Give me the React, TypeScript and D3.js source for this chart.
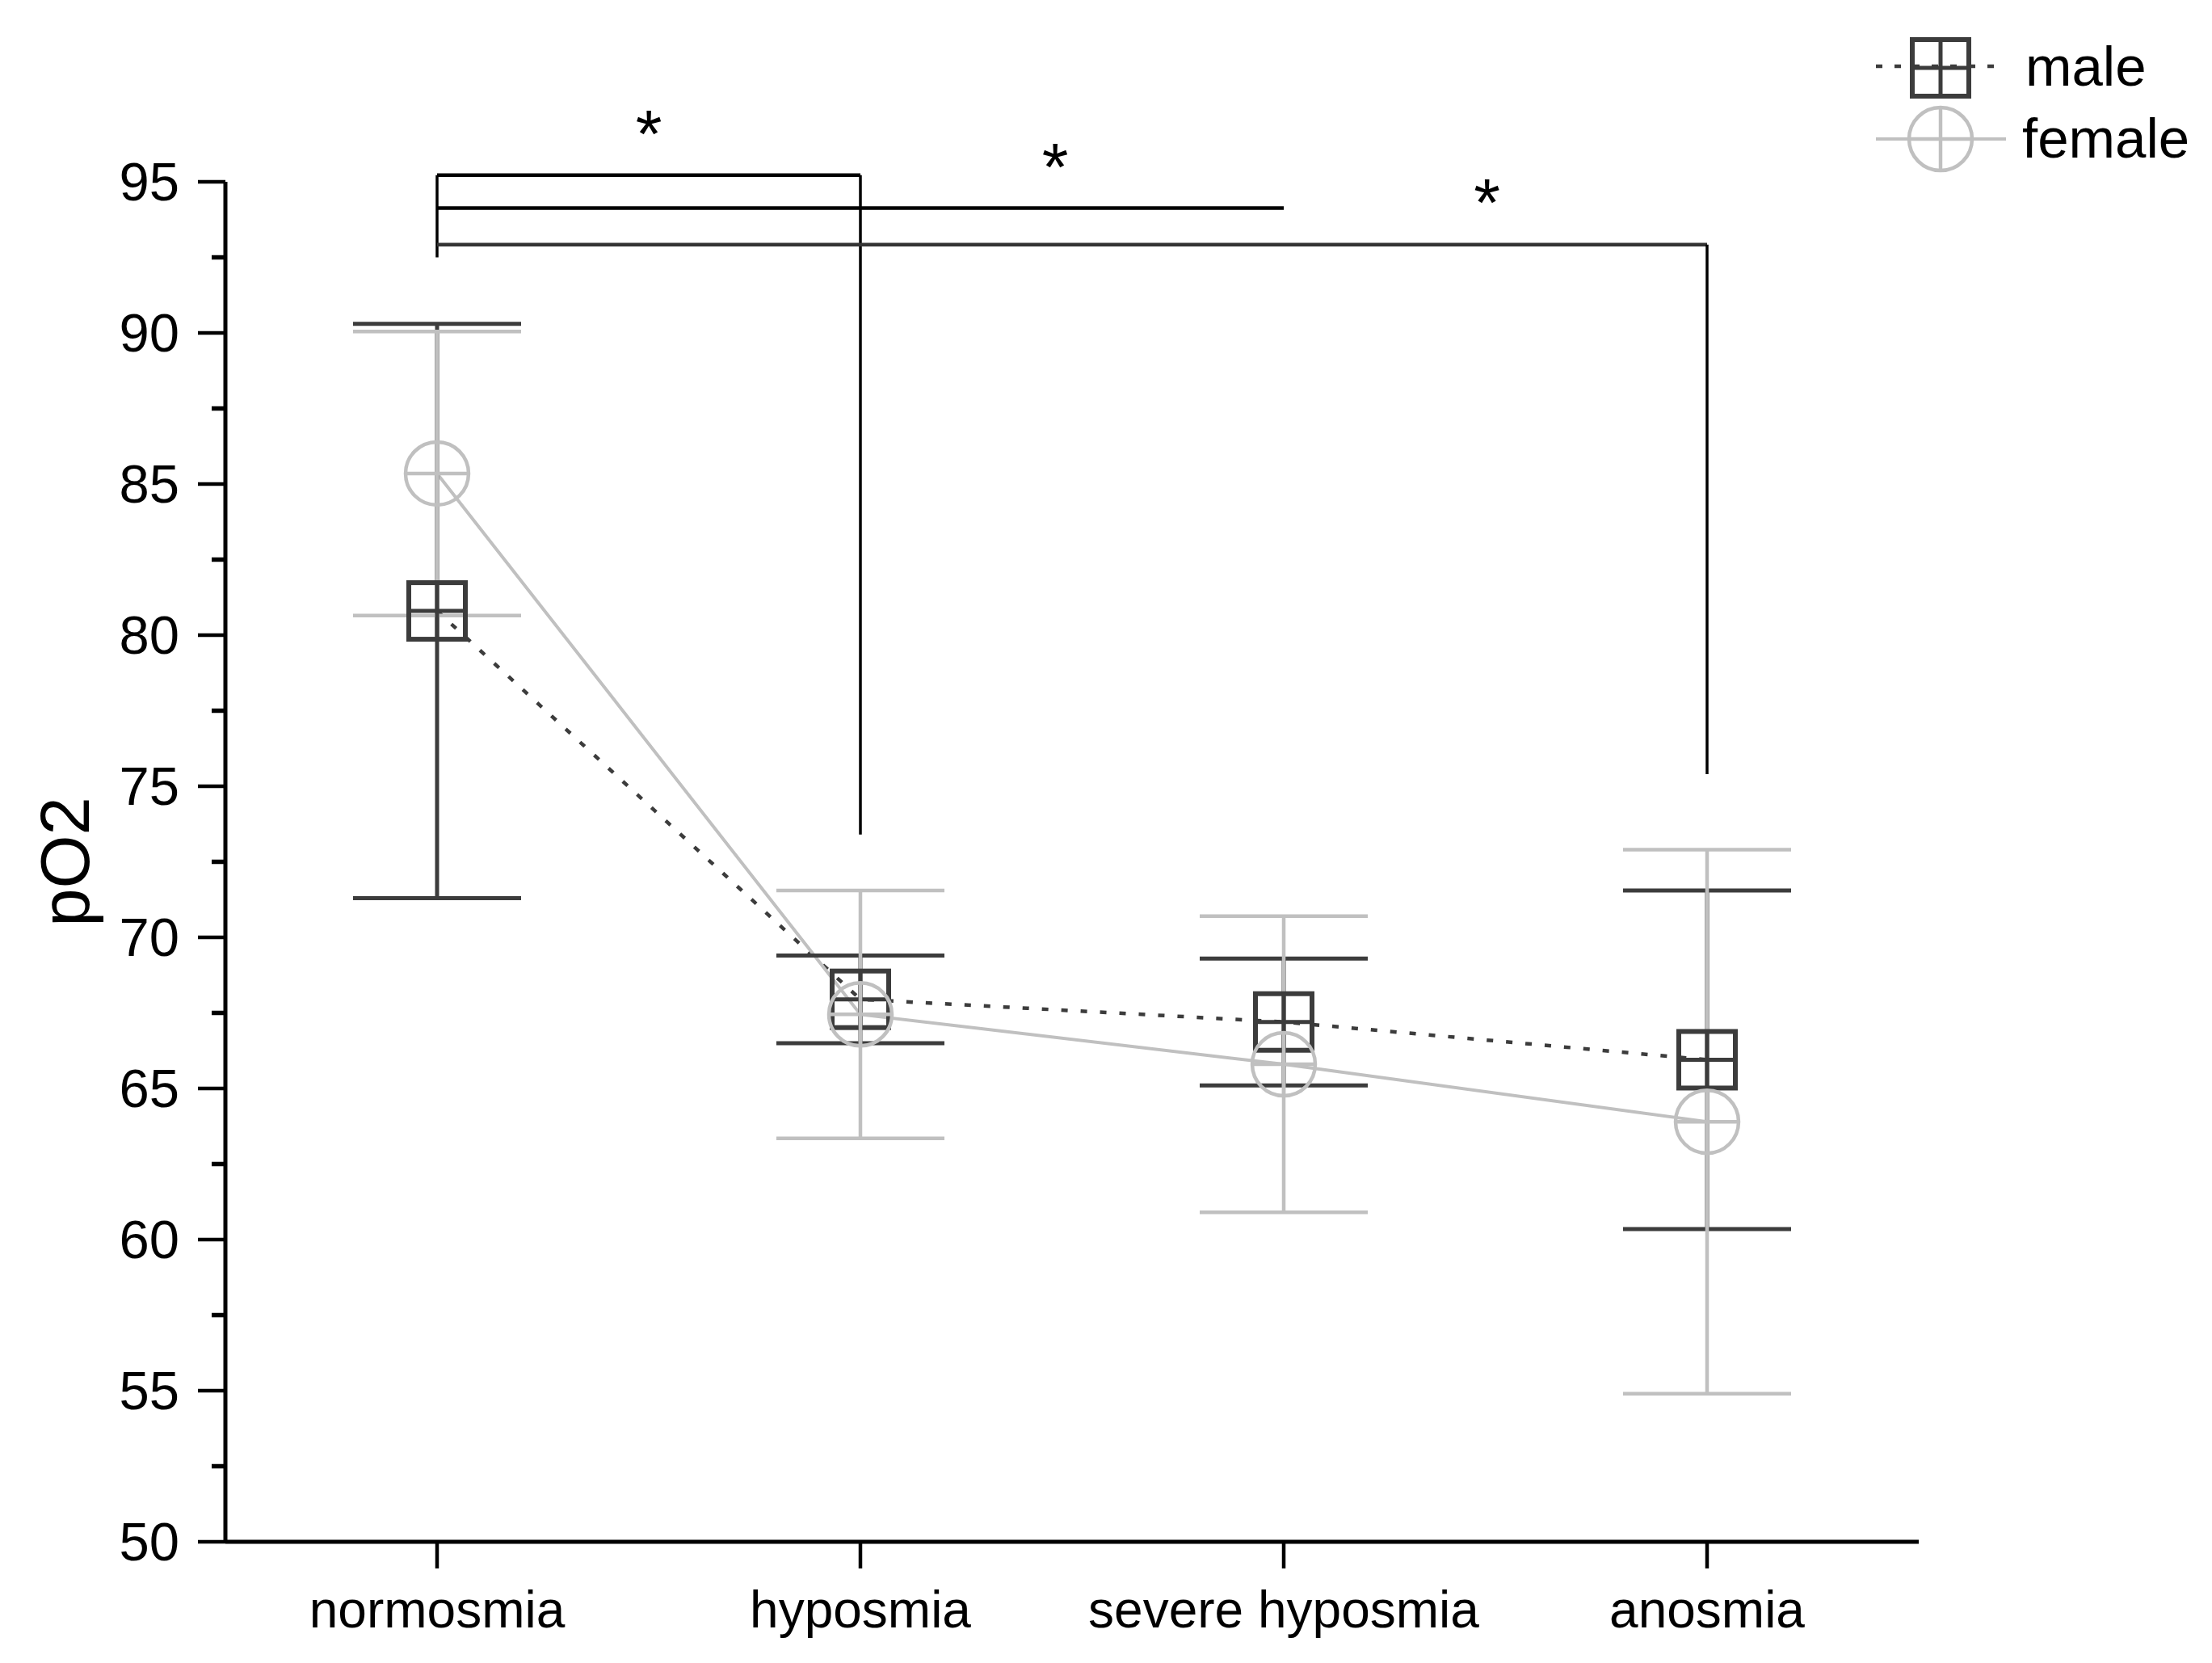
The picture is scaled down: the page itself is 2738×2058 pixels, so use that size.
import React from "react";
import * as d3 from "d3";

const categories = ["normosmia", "hyposmia", "severe hyposmia", "anosmia"];
const maleMean = [80.8, 67.95, 67.2, 65.95];
const maleErr = [9.5, 1.45, 2.1, 5.6];
const femaleMean = [85.35, 67.45, 65.8, 63.9];
const femaleErr = [4.7, 4.1, 4.9, 9.0];
const yTicks = [50, 55, 60, 65, 70, 75, 80, 85, 90, 95];
const yMinorTicks = [52.5, 57.5, 62.5, 67.5, 72.5, 77.5, 82.5, 87.5, 92.5];
// significance brackets: from category index, to category index, bracket level value, right-leg bottom value (null = none)
const brackets = [
  { from: 0, to: 1, level: 95.22, rightEnd: 73.4 },
  { from: 0, to: 2, level: 94.13, rightEnd: null },
  { from: 0, to: 3, level: 92.92, rightEnd: 75.4 },
];
const bracketLeftEnd = 92.5;
const starPos = [0.5, 1.46, 2.48];
const starVal = [97.09, 95.99, 94.81];
const seriesNames = ["male", "female"];
const yTitle = "pO2";
const yTitleCenterValue = 72.5;

const W = 2738;
const H = 2058;
const FONT = "'Liberation Sans', Arial, sans-serif";
const MALE_C = "#3c3c3c";
const FEMALE_C = "#c0c0c0";

export default function App() {
  const x = d3.scaleBand<string>().domain(categories).range([279, 2375]).padding(0);
  const cx = (c: string) => (x(c) as number) + x.bandwidth() / 2;
  const xi = d3.scaleLinear().domain([-0.5, 3.5]).range([279, 2375]);
  const y = d3.scaleLinear().domain([50, 95]).range([1908, 225]);

  const line = d3
    .line<[number, number]>()
    .x((d) => d[0])
    .y((d) => d[1]);

  const malePts: [number, number][] = categories.map((c, i) => [cx(c), y(maleMean[i])]);
  const femalePts: [number, number][] = categories.map((c, i) => [cx(c), y(femaleMean[i])]);

  const capHalf = 104;
  const sq = 35;
  const cr = 39;

  const squareMarker = (px: number, py: number, key: string) => (
    <g key={key} fill="none" stroke={MALE_C} strokeWidth={6}>
      <rect x={px - sq} y={py - sq} width={sq * 2} height={sq * 2} />
      <line x1={px - sq} x2={px + sq} y1={py} y2={py} strokeWidth={5} />
      <line x1={px} x2={px} y1={py - sq} y2={py + sq} strokeWidth={5} />
    </g>
  );
  const circleMarker = (px: number, py: number, key: string) => (
    <g key={key} fill="none" stroke={FEMALE_C} strokeWidth={4.5}>
      <circle cx={px} cy={py} r={cr} />
      <line x1={px - cr} x2={px + cr} y1={py} y2={py} />
      <line x1={px} x2={px} y1={py - cr} y2={py + cr} />
    </g>
  );

  return (
    <svg
      width={W}
      height={H}
      style={{ position: "absolute", left: 0, top: 0, background: "#fff" }}
      fontFamily={FONT}
    >
      <rect x={0} y={0} width={W} height={H} fill="#fff" />

      {/* y axis */}
      <line x1={279} x2={279} y1={y(95)} y2={y(50)} stroke="#000" strokeWidth={5} />
      {yTicks.map((t) => (
        <g key={"yt" + t}>
          <line x1={279 - 34} x2={279} y1={y(t)} y2={y(t)} stroke="#000" strokeWidth={4.5} />
          <text x={222} y={y(t)} dy="0.35em" textAnchor="end" fontSize={67} fill="#000">
            {t}
          </text>
        </g>
      ))}
      {yMinorTicks.map((t) => (
        <line key={"ym" + t} x1={279 - 17} x2={279} y1={y(t)} y2={y(t)} stroke="#000" strokeWidth={5.5} />
      ))}
      <text
        transform={`translate(110, ${y(yTitleCenterValue)}) rotate(-90)`}
        textAnchor="middle"
        fontSize={85}
        fill="#000"
      >
        {yTitle}
      </text>

      {/* x axis */}
      <line x1={279} x2={2375} y1={y(50)} y2={y(50)} stroke="#000" strokeWidth={5} />
      {categories.map((c) => (
        <g key={"xt" + c}>
          <line x1={cx(c)} x2={cx(c)} y1={y(50)} y2={y(50) + 33} stroke="#000" strokeWidth={4.5} />
          <text x={cx(c)} y={2014} textAnchor="middle" fontSize={64} fill="#000">
            {c}
          </text>
        </g>
      ))}

      {/* series lines */}
      <path d={line(malePts) || ""} fill="none" stroke={MALE_C} strokeWidth={4.5} strokeDasharray="8 16" />
      <path d={line(femalePts) || ""} fill="none" stroke={FEMALE_C} strokeWidth={4} />

      {/* error bars */}
      {categories.map((c, i) => {
        const px = cx(c);
        const hi = y(maleMean[i] + maleErr[i]);
        const lo = y(maleMean[i] - maleErr[i]);
        return (
          <g key={"me" + c} stroke={MALE_C} strokeWidth={5}>
            <line x1={px} x2={px} y1={hi} y2={lo} />
            <line x1={px - capHalf} x2={px + capHalf} y1={hi} y2={hi} />
            <line x1={px - capHalf} x2={px + capHalf} y1={lo} y2={lo} />
          </g>
        );
      })}
      {categories.map((c, i) => {
        const px = cx(c);
        const hi = y(femaleMean[i] + femaleErr[i]);
        const lo = y(femaleMean[i] - femaleErr[i]);
        return (
          <g key={"fe" + c} stroke={FEMALE_C} strokeWidth={4.5}>
            <line x1={px} x2={px} y1={hi} y2={lo} />
            <line x1={px - capHalf} x2={px + capHalf} y1={hi} y2={hi} />
            <line x1={px - capHalf} x2={px + capHalf} y1={lo} y2={lo} />
          </g>
        );
      })}

      {/* markers */}
      {malePts.map((p, i) => squareMarker(p[0], p[1], "ms" + i))}
      {femalePts.map((p, i) => circleMarker(p[0], p[1], "fc" + i))}

      {/* significance brackets */}
      <line
        x1={cx(categories[0])}
        x2={cx(categories[0])}
        y1={y(d3.max(brackets, (b) => b.level) as number)}
        y2={y(bracketLeftEnd)}
        stroke="#000"
        strokeWidth={3.5}
      />
      {brackets.map((b, i) => (
        <g key={"br" + i} stroke={i === 2 ? "#333" : "#000"}>
          <line
            x1={cx(categories[b.from])}
            x2={cx(categories[b.to])}
            y1={y(b.level)}
            y2={y(b.level)}
            strokeWidth={4.5}
          />
          {b.rightEnd !== null && (
            <line
              x1={cx(categories[b.to])}
              x2={cx(categories[b.to])}
              y1={y(b.level)}
              y2={y(b.rightEnd)}
              strokeWidth={3.5}
              stroke="#000"
            />
          )}
        </g>
      ))}
      {starPos.map((s, i) => (
        <text
          key={"st" + i}
          x={xi(s)}
          y={y(starVal[i]) + 48}
          textAnchor="middle"
          fontSize={84}
          fill="#000"
        >
          *
        </text>
      ))}

      {/* legend */}
      <g>
        <line x1={2322} x2={2480} y1={82} y2={82} stroke={MALE_C} strokeWidth={4.5} strokeDasharray="8 15" />
        {squareMarker(2402, 84, "lm")}
        <text x={2507} y={106} fontSize={69} fill="#000">
          {seriesNames[0]}
        </text>
        <line x1={2322} x2={2483} y1={172} y2={172} stroke={FEMALE_C} strokeWidth={4} />
        {circleMarker(2402, 172, "lf")}
        <text x={2503} y={195} fontSize={69} fill="#000">
          {seriesNames[1]}
        </text>
      </g>
    </svg>
  );
}
